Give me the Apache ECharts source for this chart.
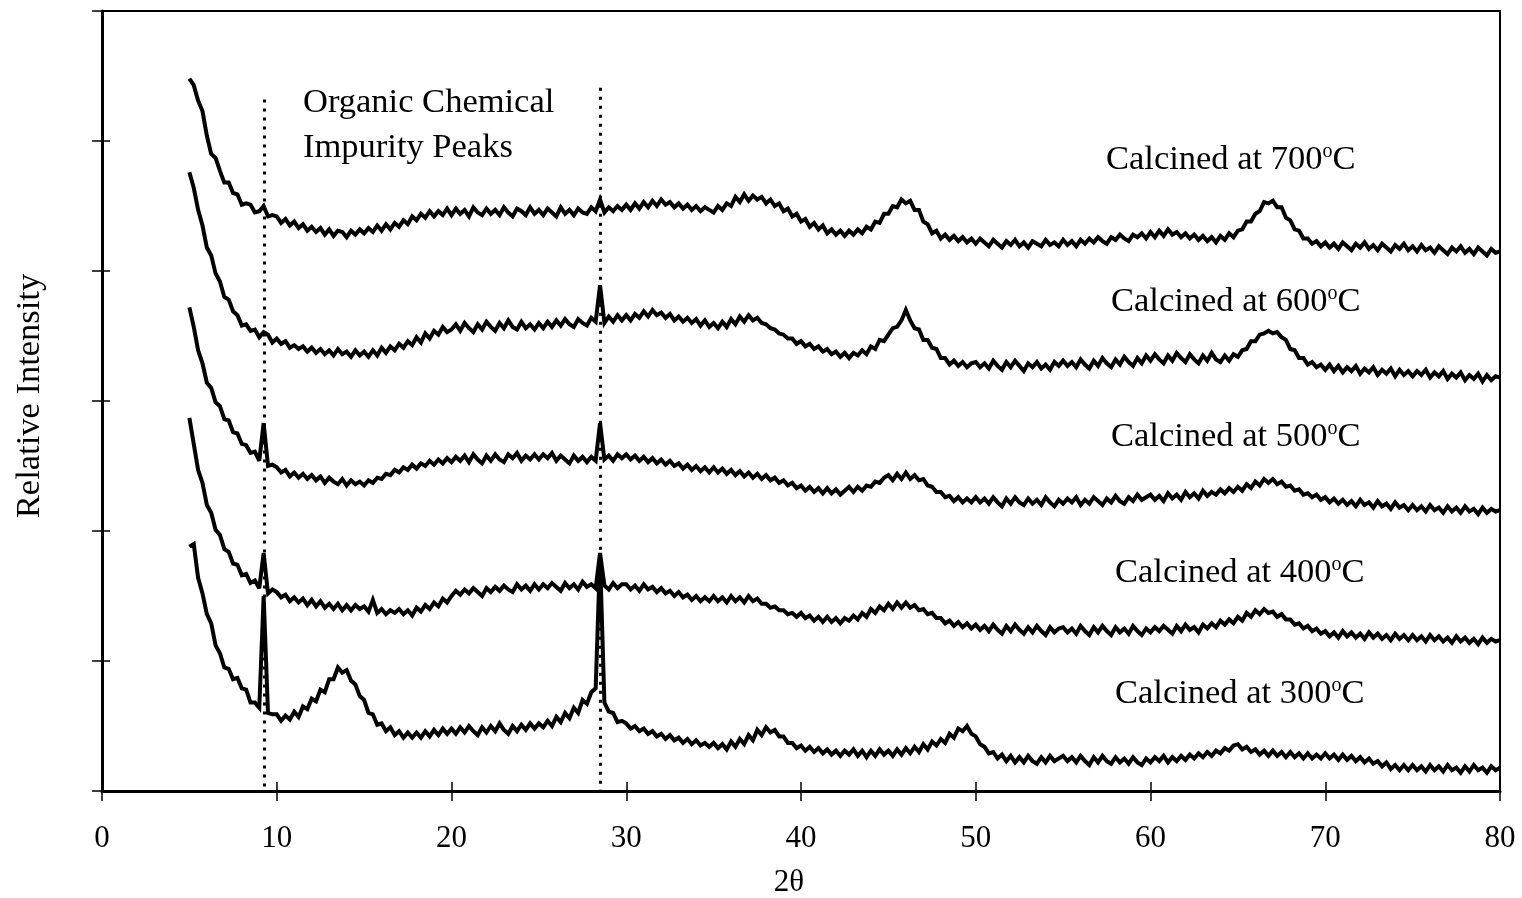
<!DOCTYPE html>
<html>
<head>
<meta charset="utf-8">
<script src="https://cdn.jsdelivr.net/npm/echarts@6/dist/echarts.min.js"></script>
<style>html,body{margin:0;padding:0;background:#fff;}#c{width:1522px;height:898px;}</style>
</head>
<body>
<div id="c"></div>
<script>
// 2θ sampling grid: 5.00 ... 80.00, step 0.25 (301 samples)
const thetaStart = 5, thetaStep = 0.25, thetaCount = 301;
const xTicks = [0, 10, 20, 30, 40, 50, 60, 70, 80];
const seriesNames = ['Calcined at 700', 'Calcined at 600', 'Calcined at 500', 'Calcined at 400', 'Calcined at 300'];
const impurityPeaks = [9.3, 28.5];

const s700 = [
5.48,5.43,5.31,5.23,5.04,4.90,4.87,4.77,4.68,4.68,4.60,4.59,4.51,4.52,4.51,4.45,4.46,4.50,4.42,4.43,
4.42,4.37,4.40,4.35,4.38,4.33,4.36,4.31,4.34,4.30,4.33,4.28,4.32,4.27,4.31,4.30,4.26,4.31,4.28,4.32,
4.29,4.33,4.30,4.35,4.31,4.36,4.32,4.37,4.34,4.39,4.36,4.42,4.39,4.44,4.41,4.46,4.42,4.46,4.43,4.48,
4.43,4.48,4.44,4.47,4.42,4.49,4.45,4.43,4.48,4.44,4.47,4.43,4.49,4.45,4.42,4.48,4.46,4.43,4.49,4.44,
4.47,4.43,4.48,4.45,4.42,4.49,4.44,4.47,4.43,4.48,4.45,4.44,4.49,4.46,4.55,4.45,4.49,4.46,4.50,4.47,
4.51,4.47,4.52,4.48,4.53,4.49,4.54,4.50,4.55,4.51,4.53,4.49,4.52,4.48,4.51,4.47,4.50,4.46,4.49,4.47,
4.45,4.50,4.47,4.52,4.50,4.57,4.53,4.59,4.54,4.58,4.55,4.57,4.52,4.55,4.50,4.52,4.46,4.48,4.42,4.44,
4.38,4.40,4.34,4.37,4.32,4.35,4.29,4.32,4.28,4.31,4.27,4.31,4.28,4.32,4.29,4.34,4.32,4.38,4.37,4.44,
4.44,4.50,4.49,4.55,4.52,4.54,4.47,4.47,4.38,4.36,4.29,4.31,4.25,4.28,4.24,4.27,4.23,4.26,4.22,4.25,
4.21,4.25,4.22,4.19,4.24,4.21,4.18,4.23,4.20,4.24,4.19,4.22,4.18,4.23,4.21,4.19,4.24,4.20,4.22,4.19,
4.24,4.20,4.23,4.19,4.24,4.21,4.25,4.22,4.26,4.23,4.21,4.26,4.24,4.28,4.25,4.23,4.28,4.26,4.29,4.25,
4.30,4.26,4.31,4.27,4.32,4.28,4.30,4.26,4.29,4.25,4.28,4.24,4.27,4.23,4.26,4.22,4.27,4.24,4.29,4.26,
4.31,4.32,4.38,4.38,4.44,4.46,4.53,4.52,4.54,4.49,4.49,4.41,4.39,4.32,4.31,4.25,4.25,4.21,4.23,4.19,
4.22,4.18,4.21,4.17,4.22,4.19,4.16,4.21,4.18,4.22,4.17,4.20,4.16,4.21,4.18,4.15,4.20,4.17,4.21,4.16,
4.19,4.15,4.20,4.16,4.18,4.14,4.19,4.16,4.13,4.18,4.15,4.19,4.14,4.17,4.13,4.18,4.15,4.12,4.17,4.14,
4.15];

const s600 = [
4.76,4.64,4.47,4.35,4.18,4.12,3.98,3.92,3.80,3.78,3.69,3.66,3.58,3.59,3.54,3.55,3.49,3.53,3.51,3.45,
3.48,3.44,3.46,3.41,3.43,3.40,3.42,3.38,3.41,3.37,3.40,3.36,3.39,3.35,3.40,3.36,3.38,3.34,3.39,3.35,
3.38,3.34,3.39,3.35,3.41,3.37,3.42,3.39,3.44,3.41,3.46,3.43,3.49,3.45,3.52,3.48,3.54,3.51,3.57,3.53,
3.55,3.59,3.54,3.60,3.56,3.53,3.59,3.55,3.61,3.57,3.54,3.60,3.56,3.62,3.57,3.55,3.61,3.56,3.59,3.55,
3.60,3.56,3.61,3.57,3.62,3.58,3.63,3.59,3.57,3.63,3.60,3.58,3.64,3.61,3.89,3.60,3.65,3.61,3.66,3.62,
3.66,3.62,3.67,3.64,3.69,3.65,3.70,3.66,3.68,3.64,3.67,3.62,3.65,3.61,3.64,3.60,3.63,3.58,3.62,3.57,
3.60,3.56,3.61,3.57,3.63,3.59,3.65,3.61,3.66,3.62,3.64,3.60,3.59,3.56,3.55,3.52,3.51,3.48,3.48,3.44,
3.46,3.42,3.44,3.40,3.42,3.38,3.40,3.36,3.38,3.34,3.37,3.33,3.37,3.35,3.39,3.36,3.42,3.40,3.47,3.46,
3.51,3.56,3.57,3.62,3.70,3.62,3.56,3.55,3.47,3.47,3.41,3.40,3.33,3.33,3.28,3.31,3.27,3.30,3.26,3.29,
3.30,3.26,3.29,3.25,3.31,3.27,3.24,3.30,3.26,3.31,3.27,3.23,3.29,3.26,3.30,3.25,3.28,3.24,3.30,3.27,
3.31,3.27,3.30,3.26,3.32,3.28,3.25,3.31,3.27,3.33,3.29,3.26,3.32,3.28,3.34,3.30,3.27,3.33,3.29,3.35,
3.31,3.36,3.32,3.29,3.35,3.31,3.37,3.33,3.30,3.36,3.32,3.29,3.35,3.31,3.37,3.32,3.30,3.35,3.31,3.36,
3.34,3.39,3.40,3.46,3.46,3.51,3.52,3.54,3.52,3.53,3.49,3.47,3.40,3.39,3.33,3.33,3.28,3.30,3.26,3.28,
3.24,3.28,3.23,3.27,3.22,3.26,3.23,3.27,3.21,3.25,3.22,3.26,3.20,3.24,3.21,3.25,3.19,3.24,3.20,3.23,
3.19,3.23,3.20,3.24,3.18,3.22,3.19,3.23,3.17,3.21,3.18,3.22,3.16,3.20,3.17,3.21,3.15,3.20,3.16,3.19,
3.18];

const s500 = [
3.72,3.57,3.39,3.29,3.14,3.10,2.99,2.96,2.86,2.85,2.76,2.75,2.67,2.66,2.60,2.61,2.54,2.83,2.50,2.51,
2.49,2.45,2.47,2.42,2.45,2.41,2.44,2.40,2.43,2.39,2.42,2.37,2.41,2.38,2.36,2.40,2.35,2.39,2.36,2.38,
2.35,2.39,2.37,2.41,2.40,2.44,2.43,2.47,2.45,2.49,2.47,2.51,2.48,2.52,2.50,2.54,2.51,2.55,2.52,2.56,
2.53,2.57,2.54,2.58,2.53,2.59,2.55,2.52,2.58,2.54,2.59,2.55,2.53,2.59,2.56,2.60,2.54,2.58,2.55,2.59,
2.55,2.59,2.56,2.60,2.54,2.58,2.55,2.52,2.58,2.54,2.57,2.53,2.57,2.54,2.83,2.55,2.58,2.54,2.59,2.56,
2.59,2.55,2.58,2.54,2.57,2.53,2.56,2.52,2.55,2.51,2.54,2.50,2.52,2.48,2.51,2.47,2.50,2.46,2.49,2.45,
2.49,2.45,2.48,2.44,2.47,2.43,2.46,2.42,2.45,2.41,2.44,2.40,2.43,2.39,2.41,2.37,2.39,2.35,2.37,2.33,
2.35,2.31,2.34,2.30,2.33,2.29,2.33,2.29,2.32,2.28,2.31,2.34,2.30,2.34,2.31,2.35,2.34,2.38,2.37,2.41,
2.43,2.39,2.44,2.40,2.45,2.40,2.43,2.39,2.40,2.35,2.34,2.30,2.30,2.26,2.27,2.23,2.26,2.22,2.25,2.22,
2.26,2.22,2.25,2.21,2.26,2.22,2.19,2.25,2.21,2.26,2.22,2.20,2.25,2.21,2.24,2.20,2.26,2.22,2.19,2.24,
2.21,2.25,2.22,2.26,2.20,2.24,2.21,2.26,2.23,2.20,2.25,2.22,2.27,2.23,2.21,2.26,2.23,2.28,2.24,2.26,
2.28,2.24,2.27,2.23,2.29,2.25,2.28,2.24,2.30,2.26,2.29,2.25,2.31,2.27,2.30,2.28,2.32,2.29,2.33,2.30,
2.34,2.31,2.36,2.33,2.38,2.35,2.40,2.37,2.40,2.36,2.38,2.34,2.35,2.31,2.32,2.28,2.29,2.26,2.28,2.24,
2.26,2.22,2.25,2.21,2.24,2.20,2.23,2.19,2.24,2.20,2.22,2.18,2.23,2.19,2.21,2.17,2.22,2.18,2.20,2.16,
2.20,2.16,2.19,2.15,2.20,2.16,2.18,2.14,2.19,2.15,2.18,2.14,2.19,2.15,2.17,2.13,2.18,2.14,2.17,2.15,
2.16];

const s400 = [
2.87,2.67,2.47,2.37,2.20,2.14,2.01,1.97,1.86,1.84,1.75,1.74,1.66,1.67,1.60,1.62,1.56,1.83,1.52,1.55,
1.53,1.49,1.51,1.46,1.49,1.45,1.48,1.43,1.47,1.42,1.46,1.41,1.44,1.40,1.44,1.39,1.43,1.39,1.43,1.40,
1.42,1.38,1.47,1.37,1.40,1.36,1.39,1.37,1.40,1.36,1.39,1.35,1.41,1.38,1.43,1.40,1.45,1.42,1.48,1.45,
1.50,1.54,1.51,1.55,1.52,1.56,1.53,1.50,1.56,1.53,1.57,1.54,1.58,1.55,1.53,1.59,1.55,1.58,1.54,1.59,
1.55,1.59,1.56,1.60,1.57,1.54,1.60,1.56,1.59,1.55,1.61,1.57,1.59,1.56,1.83,1.58,1.55,1.60,1.56,1.59,
1.59,1.55,1.58,1.54,1.59,1.55,1.57,1.53,1.56,1.52,1.54,1.50,1.53,1.49,1.51,1.47,1.50,1.46,1.49,1.46,
1.50,1.46,1.49,1.45,1.50,1.46,1.49,1.45,1.50,1.46,1.48,1.44,1.44,1.41,1.42,1.39,1.39,1.36,1.37,1.34,
1.37,1.33,1.35,1.31,1.34,1.30,1.34,1.30,1.33,1.29,1.33,1.31,1.35,1.32,1.37,1.34,1.40,1.37,1.42,1.39,
1.44,1.40,1.45,1.41,1.45,1.41,1.43,1.39,1.40,1.36,1.37,1.33,1.33,1.29,1.31,1.27,1.30,1.26,1.29,1.25,
1.28,1.24,1.27,1.23,1.28,1.24,1.21,1.27,1.23,1.28,1.24,1.21,1.26,1.22,1.27,1.23,1.20,1.26,1.22,1.25,
1.26,1.22,1.25,1.21,1.27,1.23,1.20,1.26,1.22,1.27,1.23,1.20,1.26,1.22,1.25,1.21,1.27,1.23,1.20,1.25,
1.22,1.26,1.23,1.27,1.24,1.21,1.27,1.23,1.28,1.24,1.26,1.22,1.28,1.25,1.29,1.26,1.31,1.28,1.32,1.29,
1.34,1.31,1.37,1.34,1.39,1.36,1.40,1.37,1.38,1.34,1.36,1.32,1.32,1.28,1.29,1.25,1.27,1.23,1.25,1.21,
1.23,1.19,1.22,1.18,1.23,1.19,1.22,1.18,1.21,1.17,1.22,1.18,1.21,1.17,1.20,1.16,1.21,1.17,1.20,1.16,
1.20,1.16,1.19,1.15,1.20,1.16,1.19,1.15,1.18,1.14,1.19,1.15,1.18,1.14,1.17,1.13,1.18,1.14,1.17,1.15,
1.16];

const s300 = [
1.88,1.90,1.64,1.52,1.36,1.29,1.12,1.06,0.95,0.94,0.86,0.87,0.79,0.78,0.68,0.68,0.64,1.50,0.60,0.59,
0.59,0.54,0.58,0.55,0.61,0.57,0.65,0.63,0.71,0.69,0.78,0.76,0.86,0.86,0.95,0.91,0.93,0.85,0.82,0.73,
0.70,0.60,0.59,0.51,0.52,0.46,0.49,0.43,0.46,0.41,0.45,0.41,0.45,0.41,0.46,0.42,0.47,0.43,0.48,0.44,
0.48,0.44,0.49,0.45,0.50,0.46,0.43,0.49,0.45,0.50,0.46,0.52,0.47,0.44,0.50,0.46,0.51,0.47,0.52,0.48,
0.52,0.49,0.54,0.50,0.57,0.53,0.60,0.56,0.64,0.60,0.70,0.67,0.76,0.79,1.80,0.68,0.61,0.60,0.53,0.54,
0.52,0.48,0.50,0.46,0.48,0.44,0.46,0.42,0.44,0.40,0.43,0.39,0.41,0.37,0.40,0.36,0.39,0.35,0.37,0.34,
0.37,0.33,0.36,0.32,0.38,0.34,0.40,0.36,0.43,0.39,0.47,0.43,0.49,0.45,0.47,0.42,0.42,0.37,0.37,0.33,
0.35,0.31,0.34,0.30,0.33,0.29,0.32,0.28,0.31,0.27,0.31,0.28,0.32,0.27,0.31,0.26,0.31,0.27,0.32,0.28,
0.31,0.27,0.32,0.28,0.33,0.29,0.34,0.30,0.36,0.32,0.38,0.35,0.40,0.37,0.44,0.41,0.48,0.46,0.50,0.44,
0.42,0.36,0.34,0.29,0.30,0.25,0.28,0.23,0.27,0.22,0.26,0.22,0.27,0.23,0.21,0.26,0.22,0.27,0.23,0.25,
0.27,0.23,0.26,0.22,0.27,0.23,0.20,0.26,0.22,0.27,0.23,0.21,0.26,0.22,0.25,0.21,0.26,0.22,0.20,0.25,
0.22,0.26,0.23,0.27,0.22,0.26,0.23,0.27,0.24,0.28,0.25,0.29,0.26,0.30,0.27,0.31,0.29,0.33,0.31,0.35,
0.36,0.32,0.34,0.30,0.32,0.28,0.31,0.27,0.31,0.27,0.30,0.26,0.30,0.26,0.29,0.25,0.29,0.25,0.28,0.25,
0.29,0.25,0.28,0.24,0.28,0.24,0.27,0.23,0.26,0.22,0.25,0.21,0.23,0.19,0.22,0.17,0.20,0.16,0.20,0.16,
0.20,0.16,0.19,0.15,0.20,0.16,0.19,0.15,0.20,0.16,0.18,0.14,0.19,0.15,0.20,0.16,0.18,0.14,0.19,0.16,
0.18];

const seriesValues = [s700, s600, s500, s400, s300];
const twoTheta = [];
for (let i = 0; i < thetaCount; i++) twoTheta.push(thetaStart + i * thetaStep);

const FONT = '"Liberation Serif", "Times New Roman", serif';
const chart = echarts.init(document.getElementById('c'), null, {renderer: 'canvas'});

const lineSeries = seriesValues.map((vals, k) => ({
  name: seriesNames[k],
  type: 'line',
  xAxisIndex: 0, yAxisIndex: 0,
  showSymbol: false, symbol: 'none',
  sampling: null,
  animation: false,
  lineStyle: {color: '#000', width: 4, join: 'miter', miterLimit: 3},
  data: vals.map((v, i) => [twoTheta[i], v])
}));

lineSeries[0].markLine = {
  silent: true, symbol: 'none', animation: false,
  lineStyle: {color: '#000', width: 3, type: [3, 6]},
  label: {show: false},
  data: [
    [{coord: [impurityPeaks[0], 5.32]}, {coord: [impurityPeaks[0], 0]}],
    [{coord: [impurityPeaks[1], 5.41]}, {coord: [impurityPeaks[1], 0]}]
  ]
};

const labelRich = {
  a: {fontFamily: FONT, fontSize: 34.5, color: '#000'},
  s: {fontFamily: FONT, fontSize: 20, color: '#000', verticalAlign: 'top', padding: [0, 0, 14, 0]}
};
const labelPos = [[1106, 158], [1111, 300], [1111, 435], [1115, 571], [1115, 692]];
const graphics = labelPos.map((p, k) => ({
  type: 'text', left: p[0], top: p[1] - 16, z: 100,
  style: {text: '{a|' + seriesNames[k] + '}{s|o}{a|C}', rich: labelRich}
}));
graphics.push({
  type: 'text', left: 303, top: 80, z: 100,
  style: {text: 'Organic Chemical\nImpurity Peaks', fontFamily: FONT, fontSize: 34.5, lineHeight: 45, fill: '#000'}
});

chart.setOption({
  backgroundColor: '#fff',
  animation: false,
  grid: {left: 102, right: 22, top: 11, bottom: 107, containLabel: false, outerBoundsMode: 'none',
    show: true, borderColor: '#000', borderWidth: 2, backgroundColor: 'transparent'},
  xAxis: [{
    type: 'value', min: 0, max: 80, interval: 10,
    name: '2θ', nameLocation: 'middle', nameGap: 76,
    nameTextStyle: {fontFamily: FONT, fontSize: 31, color: '#000', padding: [0, 24, 0, 0]},
    axisLine: {show: true, lineStyle: {color: '#000', width: 3}},
    axisTick: {show: true, inside: false, length: 10, lineStyle: {color: '#000', width: 1.5}},
    axisLabel: {fontFamily: FONT, fontSize: 31, color: '#000', margin: 32,
      formatter: v => xTicks.indexOf(v) >= 0 ? String(v) : ''},
    splitLine: {show: false}
  }, {
    type: 'value', min: 0, max: 80, interval: 10, position: 'bottom',
    axisLine: {show: false}, axisLabel: {show: false}, splitLine: {show: false},
    axisTick: {show: true, inside: true, length: 9, lineStyle: {color: '#000', width: 1.5}}
  }],
  yAxis: [{
    type: 'value', min: 0, max: 6, interval: 1,
    name: 'Relative Intensity', nameLocation: 'middle', nameGap: 55, nameRotate: 90,
    nameTextStyle: {fontFamily: FONT, fontSize: 34.5, color: '#000', padding: [0, 0, 0, 10]},
    axisLine: {show: true, lineStyle: {color: '#000', width: 3}},
    axisTick: {show: true, inside: false, length: 10, lineStyle: {color: '#000', width: 1.5}},
    axisLabel: {show: false},
    splitLine: {show: false}
  }, {
    type: 'value', min: 0, max: 6, interval: 1, position: 'left',
    axisLine: {show: false}, axisLabel: {show: false}, splitLine: {show: false},
    axisTick: {show: true, inside: true, length: 8, lineStyle: {color: '#000', width: 1.5}}
  }],
  graphic: graphics,
  series: lineSeries
});
</script>
</body>
</html>
